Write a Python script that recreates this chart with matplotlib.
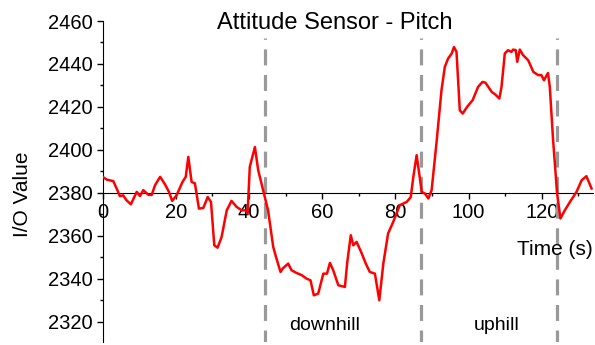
import matplotlib
matplotlib.use("Agg")
import matplotlib.pyplot as plt
from matplotlib.ticker import MultipleLocator

plt.rcParams['font.family'] = ['Liberation Sans', 'DejaVu Sans']

# time (s) and pitch value
t = [0.0, 1.1, 2.9, 3.8, 4.7, 5.6, 6.5, 7.7, 9.3, 10.2, 11.1, 12.5, 13.4, 14.3,
     15.7, 17.0, 18.1, 19.0, 20.2, 21.8, 22.7, 23.4, 24.3, 25.2, 26.3, 27.5,
     28.7, 29.6, 30.5, 31.4, 32.5, 33.9, 35.2, 36.6, 38.0, 39.1, 39.6, 40.2,
     41.6, 42.5, 43.4, 44.3, 45.2, 46.6, 47.5, 48.6, 49.2, 50.7, 51.6, 53.0,
     54.4, 55.7, 56.8, 57.7, 58.9, 60.3, 61.3, 62.1, 63.0, 64.4, 66.2, 66.8,
     67.8, 68.5, 69.4, 70.8, 71.9, 73.0, 74.4, 75.6, 76.7, 78.0, 79.4, 81.2,
     83.1, 84.2, 84.9, 85.8, 86.7, 87.2, 88.1, 89.0, 89.9, 91.3, 92.6, 93.5,
     94.4, 95.4, 96.0, 96.7, 97.6, 98.4, 99.6, 101.1, 102.6, 103.8, 104.6,
     105.4, 106.3, 107.2, 108.4, 109.0, 109.9, 110.8, 111.7, 112.2, 112.9,
     113.3, 114.0, 114.9, 116.3, 117.7, 119.0, 119.9, 120.6, 121.7, 122.2,
     123.1, 124.2, 125.1, 126.3, 127.7, 129.5, 130.9, 132.2, 133.6]
pitch = [2387.4, 2386.1, 2385.4, 2382.0, 2378.4, 2378.8, 2376.5, 2374.6, 2380.4,
         2378.5, 2381.2, 2379.0, 2379.0, 2383.5, 2387.4, 2384.0, 2380.4, 2376.2,
         2378.8, 2385.0, 2387.4, 2396.7, 2385.0, 2384.4, 2372.6, 2372.9, 2378.0,
         2375.7, 2355.5, 2354.4, 2359.4, 2371.8, 2376.2, 2373.4, 2371.8, 2371.8,
         2370.3, 2392.0, 2401.3, 2390.5, 2384.3, 2378.0, 2371.8, 2354.8, 2349.3,
         2343.1, 2344.7, 2347.0, 2343.9, 2342.6, 2341.6, 2340.0, 2339.2, 2332.2,
         2333.0, 2342.3, 2342.3, 2347.3, 2343.9, 2336.9, 2336.1, 2347.0, 2360.2,
         2355.5, 2357.1, 2351.7, 2347.0, 2343.1, 2342.3, 2329.9, 2347.0, 2361.0,
         2366.4, 2374.2, 2375.7, 2378.0, 2387.4, 2397.5, 2386.6, 2380.4, 2379.6,
         2377.3, 2381.2, 2404.5, 2427.8, 2438.6, 2442.5, 2444.9, 2447.9, 2445.6,
         2418.4, 2416.9, 2420.0, 2423.1, 2429.3, 2431.6, 2431.3, 2429.3, 2427.0,
         2425.9, 2423.9, 2429.3, 2444.9, 2446.4, 2445.6, 2446.7, 2446.4, 2441.0,
         2446.7, 2444.1, 2441.7, 2436.3, 2434.8, 2434.8, 2432.4, 2435.8, 2429.3,
         2404.5, 2379.6, 2368.0, 2371.8, 2375.7, 2380.4, 2385.8, 2387.7, 2382.0]

phase_bounds = [44.3, 87.0, 124.1]
phase_labels = ['downhill', 'uphill']
phase_label_x = [60.6, 107.6]

fig = plt.figure(figsize=(5.95, 3.45), dpi=100)
ax = fig.add_axes([0.1726, 0.0096, 0.824, 0.9295])

ax.plot(t, pitch, color='#ff0000', lw=1.8, zorder=3)
for b in phase_bounds:
    ax.plot([b, b], [2300, 2452], color='#999999', lw=2.3,
            dashes=(5, 3), zorder=2)
for lab, x in zip(phase_labels, phase_label_x):
    ax.text(x, 2315.9, lab, ha='center', va='baseline', fontsize=14)

ax.set_xlim(0, 134)
ax.set_ylim(2310.6, 2460)

ax.spines['top'].set_visible(False)
ax.spines['right'].set_visible(False)
ax.spines['bottom'].set_position(('data', 2380))
ax.spines['left'].set_bounds(2310.6, 2460)

ax.xaxis.set_major_locator(MultipleLocator(20))
ax.xaxis.set_minor_locator(MultipleLocator(10))
ax.yaxis.set_major_locator(MultipleLocator(20))
ax.yaxis.set_minor_locator(MultipleLocator(10))
ax.tick_params(which='major', length=4.5, width=1, labelsize=14.5, pad=3)
ax.tick_params(which='minor', length=2.2, width=1)

ax.text(0.474, 0.975, 'Attitude Sensor - Pitch', transform=ax.transAxes,
        ha='center', va='baseline', fontsize=17)
ax.text(1.0, 2351.0, 'Time (s)', transform=ax.get_yaxis_transform(),
        ha='right', va='baseline', fontsize=15)
fig.text(0.037, 0.436, 'I/O Value', rotation=90, ha='center', va='center',
         fontsize=15)

fig.savefig('out.png', dpi=100)
